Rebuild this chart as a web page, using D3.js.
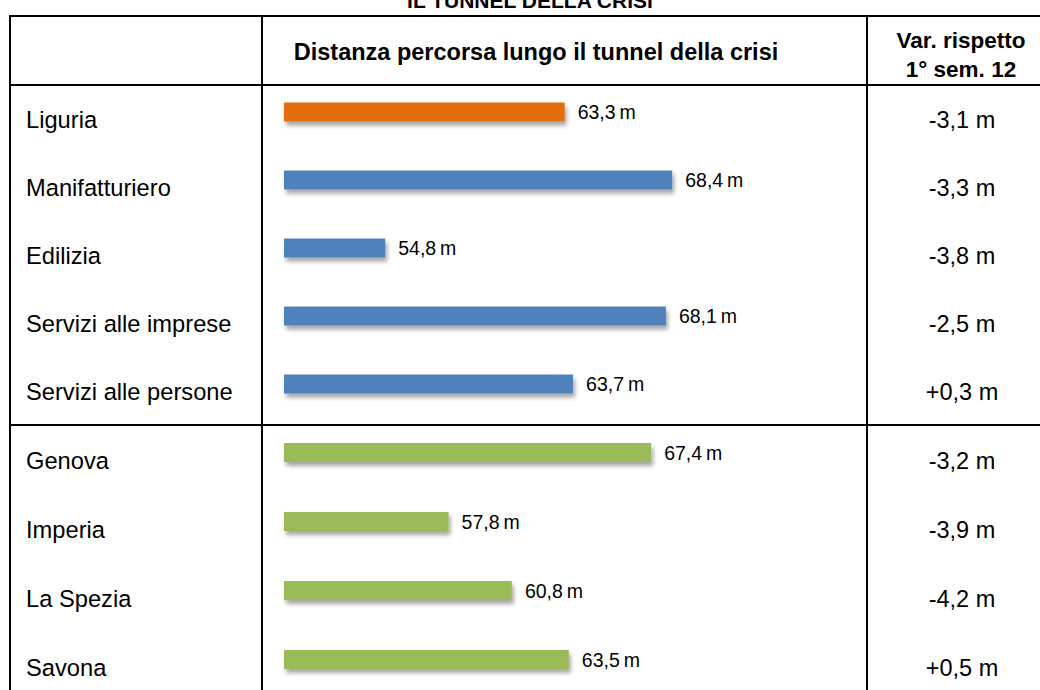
<!DOCTYPE html>
<html>
<head>
<meta charset="utf-8">
<script src="https://cdn.jsdelivr.net/npm/d3@7"></script>
<style>
  html, body { margin: 0; padding: 0; background: #fff; }
  svg { display: block; font-family: "Liberation Sans", Arial, sans-serif; }
</style>
</head>
<body>
<svg id="chart"></svg>
<script>
const width = 1040, height = 690;

// data
const categories = ["Liguria", "Manifatturiero", "Edilizia", "Servizi alle imprese", "Servizi alle persone",
                    "Genova", "Imperia", "La Spezia", "Savona"];
const distances = [63.3, 68.4, 54.8, 68.1, 63.7, 67.4, 57.8, 60.8, 63.5];
const changes = [-3.1, -3.3, -3.8, -2.5, 0.3, -3.2, -3.9, -4.2, 0.5];
const groups = ["regione", "settore", "settore", "settore", "settore",
                "provincia", "provincia", "provincia", "provincia"];
const sectorRows = categories.slice(0, 5);
const provinceRows = categories.slice(5);

const colors = { regione: "#E36C0A", settore: "#4F81BD", provincia: "#9BBB59" };

const fmt = v => (v > 0 ? "+" : "") + v.toFixed(1).replace(".", ",") + " m";
const fmtDist = v => v.toFixed(1).replace(".", ",") + "\u2009m";

const svg = d3.select("#chart")
    .attr("width", width)
    .attr("height", height)
    .attr("viewBox", `0 0 ${width} ${height}`);

// soft shadow under bars
const defs = svg.append("defs");
const f = defs.append("filter").attr("id", "shadow")
    .attr("x", "-5%").attr("y", "-50%").attr("width", "115%").attr("height", "250%");
f.append("feDropShadow")
    .attr("dx", 2).attr("dy", 4).attr("stdDeviation", 2)
    .attr("flood-color", "#000").attr("flood-opacity", 0.35);

// table geometry
const tableTop = 16, headerBottom = 85, splitY = 425;
const colLeft = 10, colBar = 262, colVar = 867;

const yTop = d3.scaleBand().domain(sectorRows).range([headerBottom, splitY]);
const yBottom = d3.scaleBand().domain(provinceRows).range([splitY, splitY + 69 * provinceRows.length]);
const rowCenter = c => (yTop(c) !== undefined ? yTop(c) + yTop.bandwidth() / 2
                                              : yBottom(c) + yBottom.bandwidth() / 2);

const x = d3.scaleLinear().domain([50, 70]).range([284, 706]);
const barH = 19;

// title (cut off at the top, as in the reference)
svg.append("text")
    .attr("x", 530).attr("y", 8)
    .attr("text-anchor", "middle")
    .attr("font-weight", "bold")
    .attr("font-size", 21)
    .text("IL TUNNEL DELLA CRISI");

// header
svg.append("text")
    .attr("x", 536).attr("y", 52)
    .attr("text-anchor", "middle")
    .attr("dominant-baseline", "central")
    .attr("font-weight", "bold")
    .attr("font-size", 23.5)
    .text("Distanza percorsa lungo il tunnel della crisi");

const varHead = svg.append("text")
    .attr("text-anchor", "middle")
    .attr("font-weight", "bold")
    .attr("font-size", 22.5);
varHead.append("tspan").attr("x", 961).attr("y", 48).text("Var. rispetto");
varHead.append("tspan").attr("x", 961).attr("y", 77).text("1° sem. 12");

// rows
const rows = svg.append("g").selectAll("g")
    .data(categories.map((c, i) => ({ c, d: distances[i], v: changes[i], g: groups[i] })))
    .join("g");

rows.append("text")
    .attr("x", 26)
    .attr("y", d => rowCenter(d.c) + 1)
    .attr("dominant-baseline", "central")
    .attr("font-size", 23.7)
    .text(d => d.c);

rows.append("rect")
    .attr("x", x(50))
    .attr("y", d => rowCenter(d.c) - 7 - barH / 2)
    .attr("width", d => x(d.d) - x(50))
    .attr("height", barH)
    .attr("fill", d => colors[d.g])
    .attr("filter", "url(#shadow)");

rows.append("text")
    .attr("x", d => x(d.d) + 13)
    .attr("y", d => rowCenter(d.c) - 7)
    .attr("dominant-baseline", "central")
    .attr("font-size", 19.5)
    .text(d => fmtDist(d.d));

rows.append("text")
    .attr("x", 962)
    .attr("y", d => rowCenter(d.c) + 1)
    .attr("text-anchor", "middle")
    .attr("dominant-baseline", "central")
    .attr("font-size", 23.5)
    .text(d => fmt(d.v));

// grid lines
const lines = svg.append("g").attr("stroke", "#000").attr("stroke-width", 2);
[tableTop, headerBottom, splitY].forEach(yy =>
    lines.append("line").attr("x1", colLeft - 1).attr("x2", width).attr("y1", yy).attr("y2", yy));
[colLeft, colBar, colVar].forEach(xx =>
    lines.append("line").attr("x1", xx).attr("x2", xx).attr("y1", tableTop - 1).attr("y2", height));
</script>
</body>
</html>
